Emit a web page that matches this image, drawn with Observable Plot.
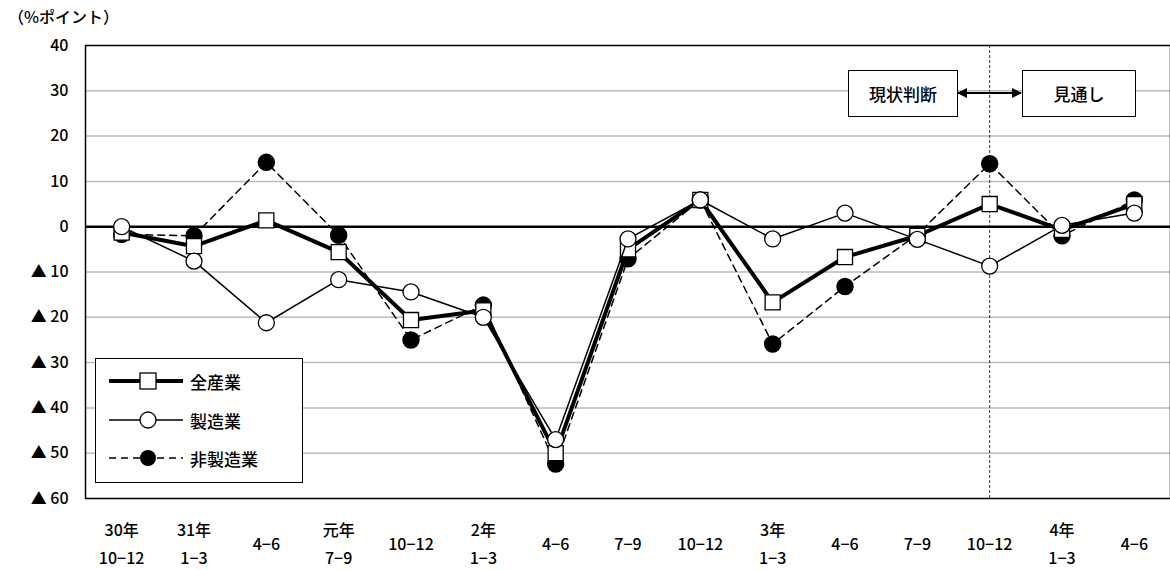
<!DOCTYPE html>
<html><head><meta charset="utf-8">
<script src="https://cdn.jsdelivr.net/npm/d3@7"></script>
<script src="https://cdn.jsdelivr.net/npm/@observablehq/plot@0.6"></script>
<style>
body{margin:0;background:#fff;font-family:"Noto Sans CJK JP",sans-serif;}
#wrap{position:relative;width:1170px;height:570px;}
.abs{position:absolute;font-size:16px;color:#000;}
.box{position:absolute;border:1.5px solid #000;background:#fff;display:flex;align-items:center;justify-content:center;font-size:17px;font-weight:500;}
</style></head><body>
<div id="wrap"></div>
<script>
const categories = ["30年\n10−12","31年\n1−3","4−6","元年\n7−9","10−12","2年\n1−3","4−6","7−9","10−12","3年\n1−3","4−6","7−9","10−12","4年\n1−3","4−6"];
const allIndustry = [-1.3,-4.3,1.4,-5.6,-20.6,-18.5,-50,-5,5.9,-16.7,-6.7,-2,5,-0.7,5];
const manufacturing = [0,-7.6,-21.2,-11.7,-14.4,-20,-47,-2.7,5.9,-2.7,3,-2.8,-8.7,0.3,3];
const nonManufacturing = [-1.7,-2,14.2,-1.9,-25,-17.3,-52.4,-7.1,5.9,-25.9,-13.2,-1.7,13.9,-2,5.9];
const yTicks = [40,30,20,10,0,-10,-20,-30,-40,-50,-60];
const dividerIndex = 12;

const rows = (vals) => vals.map((v,i)=>({i,v}));
const A = rows(allIndustry), M = rows(manufacturing), N = rows(nonManufacturing);

const plot = Plot.plot({
  width:1170, height:570, marginLeft:85, marginRight:0, marginTop:45, marginBottom:72,
  style:{fontFamily:'"Noto Sans CJK JP",sans-serif', fontSize:"16px", color:"#000", fontWeight:500},
  x:{domain:[-0.5,14.5], axis:null},
  y:{domain:[-60,40], ticks:yTicks, tickSize:0, tickPadding:17, label:null,
     tickFormat:d=> d<0 ? "▲ "+(-d) : String(d)},
  marks:[
    Plot.ruleY(yTicks.filter(d=>d!==0 && d!==40 && d!==-60),{stroke:"#bbb",strokeWidth:1.5}),
    Plot.ruleX([dividerIndex],{stroke:"#000",strokeWidth:0.8,strokeDasharray:"3,2"}),
    Plot.frame({stroke:"#000",strokeWidth:1.5}),
    Plot.ruleY([0],{stroke:"#000",strokeWidth:2.5}),
    Plot.line(N,{x:"i",y:"v",stroke:"#000",strokeWidth:1.5,strokeDasharray:"7,5"}),
    Plot.dot(N,{x:"i",y:"v",r:8,fill:"#000",stroke:"#000"}),
    Plot.line(A,{x:"i",y:"v",stroke:"#000",strokeWidth:4}),
    Plot.dot(A,{x:"i",y:"v",symbol:"square",r:8.5,fill:"#fff",stroke:"#000",strokeWidth:1.3}),
    Plot.line(M,{x:"i",y:"v",stroke:"#000",strokeWidth:1.5}),
    Plot.dot(M,{x:"i",y:"v",r:8,fill:"#fff",stroke:"#000",strokeWidth:1.3}),
    Plot.text(categories,{x:(d,i)=>i,frameAnchor:"bottom",dy:43,text:d=>d,lineAnchor:"middle",lineHeight:1.75,fontSize:16})
  ]
});
const wrap = document.getElementById("wrap");
wrap.appendChild(plot);

const html = `
<div class="abs" style="left:8px;top:4px;font-weight:500;">（%ポイント）</div>
<div class="box" style="left:848px;top:70px;width:108px;height:45px;">現状判断</div>
<div class="box" style="left:1022px;top:70px;width:112px;height:45px;">見通し</div>
<svg class="abs" style="left:956px;top:80px" width="68" height="26">
 <defs><marker id="ah" viewBox="0 0 10 10" refX="9" refY="5" markerWidth="5" markerHeight="5" orient="auto-start-reverse"><path d="M0,0L10,5L0,10z" fill="#000"/></marker></defs>
 <line x1="2" y1="13" x2="65" y2="13" stroke="#000" stroke-width="2" marker-start="url(#ah)" marker-end="url(#ah)"/>
</svg>
<div class="abs" style="left:95px;top:358px;width:206px;height:123px;border:1.5px solid #000;background:#fff;"></div>
<svg class="abs" style="left:95px;top:358px" width="90" height="125">
 <line x1="14" x2="88" y1="23" y2="23" stroke="#000" stroke-width="4"/>
 <rect x="45" y="15" width="16" height="16" fill="#fff" stroke="#000" stroke-width="1.3"/>
 <line x1="14" x2="88" y1="62" y2="62" stroke="#000" stroke-width="1.5"/>
 <circle cx="53" cy="62" r="8" fill="#fff" stroke="#000" stroke-width="1.3"/>
 <line x1="14" x2="88" y1="100" y2="100" stroke="#000" stroke-width="1.5" stroke-dasharray="7,5"/>
 <circle cx="53" cy="100" r="8" fill="#000"/>
</svg>
<div class="abs" style="left:190px;top:369px;font-size:17px;font-weight:500;">全産業</div>
<div class="abs" style="left:190px;top:408px;font-size:17px;font-weight:500;">製造業</div>
<div class="abs" style="left:190px;top:446px;font-size:17px;font-weight:500;">非製造業</div>`;
wrap.insertAdjacentHTML("beforeend", html);
</script></body></html>
